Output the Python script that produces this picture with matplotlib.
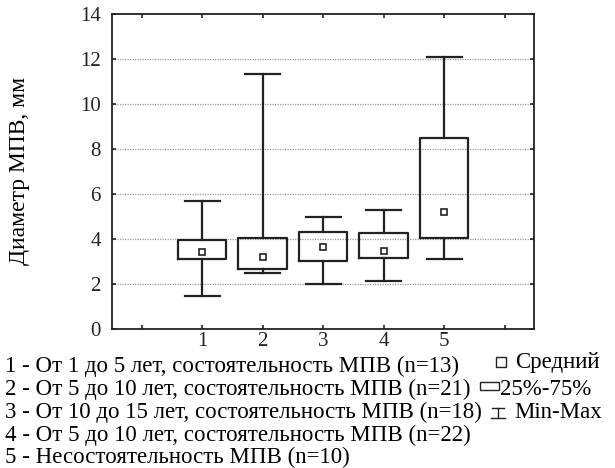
import matplotlib
matplotlib.use('Agg')
import matplotlib.pyplot as plt
from matplotlib.patches import Rectangle
from matplotlib.lines import Line2D

plt.rcParams['font.family'] = ['Liberation Serif', 'DejaVu Serif']

# Данные
groups = [1, 2, 3, 4, 5]
mins = [1.46, 2.48, 2.00, 2.13, 3.11]
q1 = [3.10, 2.67, 3.01, 3.15, 4.02]
q3 = [3.97, 4.04, 4.31, 4.24, 8.47]
maxs = [5.70, 11.30, 4.96, 5.26, 12.06]
means = [3.43, 3.21, 3.65, 3.47, 5.20]

captions = [
    '1 - От 1 до 5 лет, состоятельность МПВ (n=13)',
    '2 - От 5 до 10 лет, состоятельность МПВ (n=21)',
    '3 - От 10 до 15 лет, состоятельность МПВ (n=18)',
    '4 - От 5 до 10 лет, состоятельность МПВ (n=22)',
    '5 - Несостоятельность МПВ (n=10)',
]
legend_labels = ['Средний', '25%-75%', 'Min-Max']

W, H = 615, 468
fig = plt.figure(figsize=(W / 100, H / 100), dpi=100)
ax = fig.add_axes([0.182, 0.297, 0.686, 0.674])

stats = []
for i in range(len(groups)):
    stats.append({'med': means[i], 'q1': q1[i], 'q3': q3[i],
                  'whislo': mins[i], 'whishi': maxs[i],
                  'mean': means[i], 'fliers': []})

ax.bxp(stats, positions=groups, widths=0.8, capwidths=0.58,
       showmeans=True, showfliers=False,
       boxprops=dict(color='#222222', linewidth=1.6),
       whiskerprops=dict(color='#222222', linewidth=1.6),
       capprops=dict(color='#222222', linewidth=1.6),
       medianprops=dict(linewidth=0),
       meanprops=dict(marker='s', markerfacecolor='white',
                      markeredgecolor='#222222', markersize=4.5,
                      markeredgewidth=1.2))

ax.set_xlim(-0.49, 6.48)
ax.set_ylim(0, 14)
ax.set_xticks(range(7))
ax.set_xticklabels(['', '1', '2', '3', '4', '5', ''])
ax.set_yticks(range(0, 15, 2))
for y in range(2, 14, 2):
    ax.axhline(y, color='#999999', linestyle=(0, (1, 1)), linewidth=0.9, zorder=0)

ax.tick_params(direction='in', length=3, width=1.2, top=True, right=True,
               labelsize=15, colors='#222222')
ax.tick_params(axis='y', pad=8)
ax.tick_params(axis='x', pad=2)
for s in ax.spines.values():
    s.set_linewidth(1.3)
    s.set_color('#222222')

ax.set_ylabel('Диаметр МПВ, мм', fontsize=17, labelpad=36)

fs = 16.5
# подписи групп (базовые линии в пикселях)
baselines = [372, 395, 418, 441, 463]
for txt, b in zip(captions, baselines):
    fig.text(5 / W, 1 - b / H, txt, fontsize=fs, va='baseline', ha='left')

# условные обозначения
k = dict(color='#222222', linewidth=1.0, transform=fig.transFigure)
fig.add_artist(Line2D([500.5 / W], [1 - 361.5 / H], marker='s', markersize=6.5,
                      markerfacecolor='white', markeredgecolor='#222222',
                      markeredgewidth=1.0, linestyle='none',
                      transform=fig.transFigure))
fig.text(515 / W, 1 - 368 / H, legend_labels[0], fontsize=fs, va='baseline')

fig.add_artist(Rectangle((480 / W, 1 - 390 / H), 19 / W, 8.5 / H,
                         fill=False, edgecolor='#222222', linewidth=1.0,
                         transform=fig.transFigure))
fig.text(500 / W, 1 - 395 / H, legend_labels[1], fontsize=fs, va='baseline')

fig.add_artist(Line2D([498 / W, 498 / W], [1 - 408 / H, 1 - 418 / H], **k))
fig.add_artist(Line2D([492 / W, 504 / W], [1 - 408 / H, 1 - 408 / H], **k))
fig.add_artist(Line2D([491 / W, 505 / W], [1 - 418 / H, 1 - 418 / H], **k))
fig.text(514 / W, 1 - 418 / H, legend_labels[2], fontsize=fs, va='baseline')

fig.savefig('out.png', dpi=100)
